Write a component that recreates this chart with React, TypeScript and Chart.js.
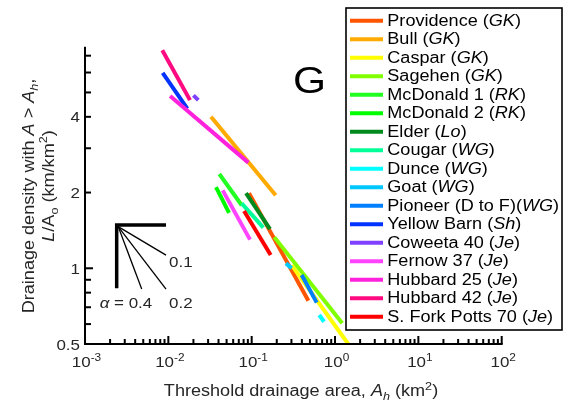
import React, { useEffect, useRef } from "react";
import { Chart, registerables } from "chart.js";

Chart.register(...registerables);

// ---- data ----
const SITE_NAMES = [
  "Providence", "Bull", "Caspar", "Sagehen", "McDonald 1", "McDonald 2", "Elder",
  "Cougar", "Dunce", "Goat", "Pioneer (D to F)", "Yellow Barn", "Coweeta 40",
  "Fernow 37", "Hubbard 25", "Hubbard 42", "S. Fork Potts 70",
];
const SITE_TAGS = ["GK", "GK", "GK", "GK", "RK", "RK", "Lo", "WG", "WG", "WG", "WG", "Sh", "Je", "Je", "Je", "Je", "Je"];
const SITE_COLORS = [
  "#ff5500", "#ffaa00", "#ffff00", "#80ff00", "#22ff22", "#00ff00", "#008a1e",
  "#00ff99", "#00ffff", "#00c8ff", "#0080ff", "#0033ff", "#8040ff",
  "#ff44ff", "#ff22dd", "#ff0a80", "#ff0000",
];
const AREA_START = [0.093, 0.0325, 0.302, 0.187, 0.0409, 0.0373, 0.0855, 0.0759, 0.647, 0.258, 0.398, 0.00855, 0.02, 0.0449, 0.0105, 0.00846, 0.081];
const DENSITY_START = [1.99, 4.0, 1.03, 1.33, 2.37, 2.1, 1.99, 1.81, 0.652, 1.046, 0.94, 5.98, 4.87, 2.04, 4.84, 7.36, 1.69];
const AREA_END = [0.479, 0.194, 1.44, 1.22, 0.0759, 0.0535, 0.166, 0.138, 0.738, 0.302, 0.603, 0.0169, 0.0229, 0.0955, 0.0912, 0.0182, 0.169];
const DENSITY_END = [0.743, 1.95, 0.5, 0.604, 1.78, 1.66, 1.43, 1.45, 0.613, 1.0, 0.73, 4.31, 4.66, 1.3, 2.63, 4.66, 1.13];

const X_MIN = 1e-3;
const X_MAX = 1e2;
const Y_MIN = 0.5;
const Y_MAX = 7.6;
const X_DECADES = [-3, -2, -1, 0, 1, 2];
const Y_LABELED = [0.5, 1, 2, 4];
const Y_MINOR = [0.6, 0.7, 0.8, 0.9, 3, 5, 6, 7];

// slope guide (data coordinates)
const GUIDE_CORNER = [0.0024, 1.485];
const GUIDE_ARM_X = 0.00938;
const GUIDE_ARM_Y = 0.832;
const GUIDE_ALPHAS = ["0.1", "0.2", "0.4"];
const GUIDE_END_X = [0.00938, 0.00938, 0.00479];
const GUIDE_END_Y = [1.128, 0.827, 0.827];

const PANEL_LETTER = "G";

// ---- text helpers ----
type Run = { t: string; it?: boolean; v?: "sub" | "sup" };
const FAMILY = '"Liberation Sans", Arial, Helvetica, sans-serif';
const SX = 1.13;

function fontFor(r: Run, size: number) {
  const s = r.v ? size * 0.7 : size;
  return `${r.it ? "italic " : ""}${s}px ${FAMILY}`;
}
function runsWidth(ctx: CanvasRenderingContext2D, runs: Run[], size: number) {
  let w = 0;
  for (const r of runs) {
    ctx.font = fontFor(r, size);
    w += ctx.measureText(r.t).width;
  }
  return w;
}
function drawRuns(
  ctx: CanvasRenderingContext2D,
  runs: Run[],
  x: number,
  y: number,
  size: number,
  align: "left" | "center" | "right",
  color: string,
  angle = 0,
  sx = SX
) {
  ctx.save();
  ctx.translate(x, y);
  if (angle) ctx.rotate(angle);
  ctx.scale(sx, 1);
  const w = runsWidth(ctx, runs, size);
  let cx = align === "left" ? 0 : align === "center" ? -w / 2 : -w;
  ctx.fillStyle = color;
  ctx.textAlign = "left";
  ctx.textBaseline = "alphabetic";
  for (const r of runs) {
    ctx.font = fontFor(r, size);
    const dy = r.v === "sup" ? -size * 0.38 : r.v === "sub" ? size * 0.25 : 0;
    ctx.fillText(r.t, cx, dy);
    cx += ctx.measureText(r.t).width;
  }
  ctx.restore();
}

const AXIS_TEXT = "#262626";

const decorPlugin = {
  id: "decor",
  afterDatasetsDraw(chart: any) {
    const ctx: CanvasRenderingContext2D = chart.ctx;
    const xs = chart.scales.x;
    const ys = chart.scales.y;
    const ca = chart.chartArea;
    const L = ca.left;
    const B = ca.bottom;

    // slope guide
    const cx = xs.getPixelForValue(GUIDE_CORNER[0]);
    const cy = ys.getPixelForValue(GUIDE_CORNER[1]);
    ctx.save();
    ctx.strokeStyle = "#000";
    ctx.lineCap = "butt";
    ctx.lineWidth = 3.5;
    ctx.beginPath();
    ctx.moveTo(xs.getPixelForValue(GUIDE_ARM_X), cy);
    ctx.lineTo(cx, cy);
    ctx.lineTo(cx, ys.getPixelForValue(GUIDE_ARM_Y));
    ctx.stroke();
    ctx.lineWidth = 1.3;
    const ends: number[][] = [];
    for (let i = 0; i < GUIDE_ALPHAS.length; i++) {
      const ex = xs.getPixelForValue(GUIDE_END_X[i]);
      const ey = ys.getPixelForValue(GUIDE_END_Y[i]);
      ends.push([ex, ey]);
      ctx.beginPath();
      ctx.moveTo(cx + 1.5, cy + 1.5);
      ctx.lineTo(ex, ey);
      ctx.stroke();
    }
    ctx.restore();
    drawRuns(ctx, [{ t: GUIDE_ALPHAS[0] }], ends[0][0] + 3, ends[0][1] + 11.5, 15, "left", AXIS_TEXT);
    drawRuns(ctx, [{ t: GUIDE_ALPHAS[1] }], ends[1][0] + 3, ends[1][1] + 19, 15, "left", AXIS_TEXT);
    drawRuns(ctx, [{ t: "α", it: true }, { t: " = " + GUIDE_ALPHAS[2] }], ends[2][0] + 10.5, ends[2][1] + 19, 15, "right", AXIS_TEXT);

    // axes
    ctx.save();
    ctx.strokeStyle = "#000";
    ctx.lineWidth = 2;
    ctx.lineCap = "butt";
    ctx.beginPath();
    ctx.moveTo(L, ca.top);
    ctx.lineTo(L, B);
    ctx.lineTo(ca.right + 1, B);
    ctx.stroke();
    // x ticks
    for (const d of X_DECADES) {
      for (let m = 1; m <= 9; m++) {
        const v = m * Math.pow(10, d);
        if (v > X_MAX * 1.0001) break;
        const px = xs.getPixelForValue(v);
        const len = m === 1 ? 8 : 5;
        ctx.beginPath();
        ctx.moveTo(px, B);
        ctx.lineTo(px, B - len);
        ctx.stroke();
      }
    }
    // y ticks
    for (const v of [...Y_LABELED, ...Y_MINOR]) {
      const py = ys.getPixelForValue(v);
      const len = v === 1 ? 8 : 6;
      ctx.beginPath();
      ctx.moveTo(L, py);
      ctx.lineTo(L + len, py);
      ctx.stroke();
    }
    ctx.restore();

    // y tick labels
    for (const v of Y_LABELED) {
      const py = ys.getPixelForValue(v);
      drawRuns(ctx, [{ t: String(v) }], L - 5, py + 5.5, 15, "right", AXIS_TEXT);
    }
    // x tick labels
    for (const d of X_DECADES) {
      const px = xs.getPixelForValue(Math.pow(10, d));
      drawRuns(ctx, [{ t: "10" }, { t: String(d), v: "sup" }], px + 1.5, B + 22.5, 15, "center", AXIS_TEXT);
    }

    // axis titles
    drawRuns(
      ctx,
      [{ t: "Threshold drainage area, " }, { t: "A", it: true }, { t: "h", it: true, v: "sub" }, { t: " (km" }, { t: "2", v: "sup" }, { t: ")" }],
      301,
      B + 52,
      16,
      "center",
      AXIS_TEXT
    );
    drawRuns(
      ctx,
      [{ t: "Drainage density with " }, { t: "A", it: true }, { t: " > " }, { t: "A", it: true }, { t: "h", it: true, v: "sub" }, { t: "," }],
      34,
      196,
      16,
      "center",
      AXIS_TEXT,
      -Math.PI / 2
    );
    drawRuns(
      ctx,
      [{ t: "L", it: true }, { t: "/A" }, { t: "o", v: "sub" }, { t: " (km/km" }, { t: "2", v: "sup" }, { t: ")" }],
      53.5,
      186,
      16,
      "center",
      AXIS_TEXT,
      -Math.PI / 2
    );

    // panel letter
    drawRuns(ctx, [{ t: PANEL_LETTER }], 293, 93, 36, "left", "#000", 0, 1.18);

    // legend
    const lx = 346, ly = 8, lw = 216, lh = 322;
    ctx.save();
    ctx.fillStyle = "#fff";
    ctx.fillRect(lx, ly, lw, lh);
    ctx.strokeStyle = "#000";
    ctx.lineWidth = 1.6;
    ctx.strokeRect(lx, ly, lw, lh);
    ctx.restore();
    for (let i = 0; i < SITE_NAMES.length; i++) {
      const base = 25.7 + 18.5 * i;
      const ly2 = base - 5;
      ctx.save();
      ctx.strokeStyle = SITE_COLORS[i];
      ctx.lineWidth = 4;
      ctx.lineCap = "butt";
      ctx.beginPath();
      ctx.moveTo(350, ly2);
      ctx.lineTo(383, ly2);
      ctx.stroke();
      ctx.restore();
      const name = SITE_NAMES[i];
      const sep = name.endsWith(")") ? "(" : " (";
      drawRuns(ctx, [{ t: name + sep }, { t: SITE_TAGS[i], it: true }, { t: ")" }], 387.3, base, 16, "left", "#000");
    }
  },
};

export default function App() {
  const ref = useRef<HTMLCanvasElement | null>(null);
  useEffect(() => {
    document.body.style.margin = "0";
    const canvas = ref.current;
    if (!canvas) return;
    const n = SITE_NAMES.length;
    const datasets = SITE_NAMES.map((name, i) => ({
      label: name,
      data: [
        { x: AREA_START[i], y: DENSITY_START[i] },
        { x: AREA_END[i], y: DENSITY_END[i] },
      ],
      borderColor: SITE_COLORS[i],
      backgroundColor: SITE_COLORS[i],
      borderWidth: 4,
      borderCapStyle: "butt" as const,
      showLine: true,
      pointRadius: 0,
      pointHoverRadius: 0,
      order: n - i,
    }));
    const chart = new Chart(canvas, {
      type: "scatter",
      data: { datasets },
      options: {
        responsive: false,
        animation: false,
        events: [],
        layout: { padding: { left: 85, right: 69.3, top: 46.7, bottom: 60 } },
        plugins: { legend: { display: false }, tooltip: { enabled: false } },
        scales: {
          x: { type: "logarithmic", min: X_MIN, max: X_MAX, display: false },
          y: { type: "logarithmic", min: Y_MIN, max: Y_MAX, display: false },
        },
      },
      plugins: [decorPlugin],
    });
    return () => chart.destroy();
  }, []);
  return <canvas ref={ref} width={571} height={404} style={{ display: "block", width: 571, height: 404 }} />;
}
